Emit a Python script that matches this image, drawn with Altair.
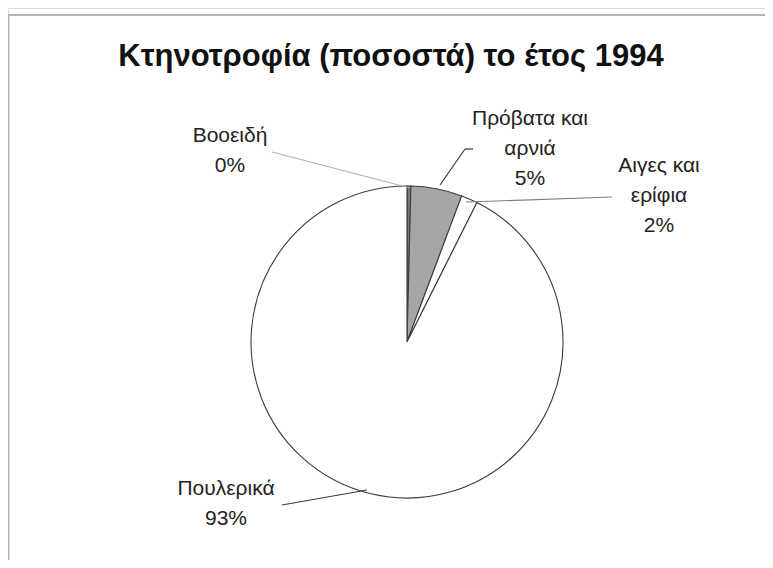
import altair as alt
import pandas as pd

# ---- data ----
categories = ["Βοοειδή", "Πρόβατα και αρνιά", "Αιγες και ερίφια", "Πουλερικά"]
values = [0.4, 5.3, 1.7, 92.6]
pct_labels = ["0%", "5%", "2%", "93%"]
label_names = ["Βοοειδή", "Πρόβατα και\nαρνιά", "Αιγες και\nερίφια", "Πουλερικά"]
title_text = "Κτηνοτροφία (ποσοστά) το έτος 1994"

# ---- styling ----
fills = ["#7a7a7a", "#a6a6a6", "#ffffff", "#ffffff"]
dash_range = [[1, 0], [1, 0], [7, 4], [1, 0]]
W, H = 757, 552
CX, CY, R = 399, 334, 156

pie_df = pd.DataFrame({"category": categories, "value": values, "idx": list(range(len(values)))})

lab_df = pd.DataFrame({
    "text": [f"{n}\n{p}" for n, p in zip(label_names, pct_labels)],
    "lx": [222, 522, 651, 218],
    "ly": [134, 117, 164, 487],
})

lead_df = pd.DataFrame({
    "x": [264, 457, 457, 458, 274],
    "y": [144, 141, 141, 194, 497],
    "x2": [402, 465, 432, 604, 359],
    "y2": [180, 141, 177, 189, 482],
    "c": ["a", "b", "b", "c", "b"],
})

one = pd.DataFrame({"t": [title_text]})

border = alt.Chart(one).mark_rect(fillOpacity=0, stroke="#b5b5b5", strokeWidth=2).encode(
    x=alt.value(0.5), x2=alt.value(1000), y=alt.value(7), y2=alt.value(1000)
)

pie = alt.Chart(pie_df).mark_arc(radius=R, stroke="#3c3c3c", strokeWidth=1.1).encode(
    theta=alt.Theta("value:Q", stack=True),
    order=alt.Order("idx:Q"),
    fill=alt.Fill("category:N", scale=alt.Scale(domain=categories, range=fills), legend=None),
    strokeDash=alt.StrokeDash("category:N", scale=alt.Scale(domain=categories, range=dash_range), legend=None),
    x=alt.value(CX),
    y=alt.value(CY),
)

leads = alt.Chart(lead_df).mark_rule(strokeWidth=1.2).encode(
    x=alt.X("x:Q", scale=None),
    y=alt.Y("y:Q", scale=None),
    x2="x2:Q",
    y2="y2:Q",
    color=alt.Color("c:N", scale=alt.Scale(domain=["a", "b", "c"], range=["#b0b0b0", "#3a3a3a", "#808080"]), legend=None),
)

labels = alt.Chart(lab_df).mark_text(
    font="Liberation Sans", fontSize=21, lineBreak="\n", lineHeight=30,
    align="center", baseline="alphabetic", color="#222222"
).encode(
    x=alt.X("lx:Q", scale=None),
    y=alt.Y("ly:Q", scale=None),
    text="text:N",
)

title = alt.Chart(one).mark_text(
    font="Liberation Sans", fontSize=31, fontWeight="bold",
    align="center", baseline="alphabetic", color="#111111"
).encode(x=alt.value(383), y=alt.value(58), text="t:N")

chart = alt.layer(border, pie, leads, labels, title).properties(
    width=W, height=H, autosize=alt.AutoSizeParams(type="none"), padding=0
).configure_view(stroke=None).configure(background="white")

chart.save("out.html", embed_options={"renderer": "svg", "actions": False})
